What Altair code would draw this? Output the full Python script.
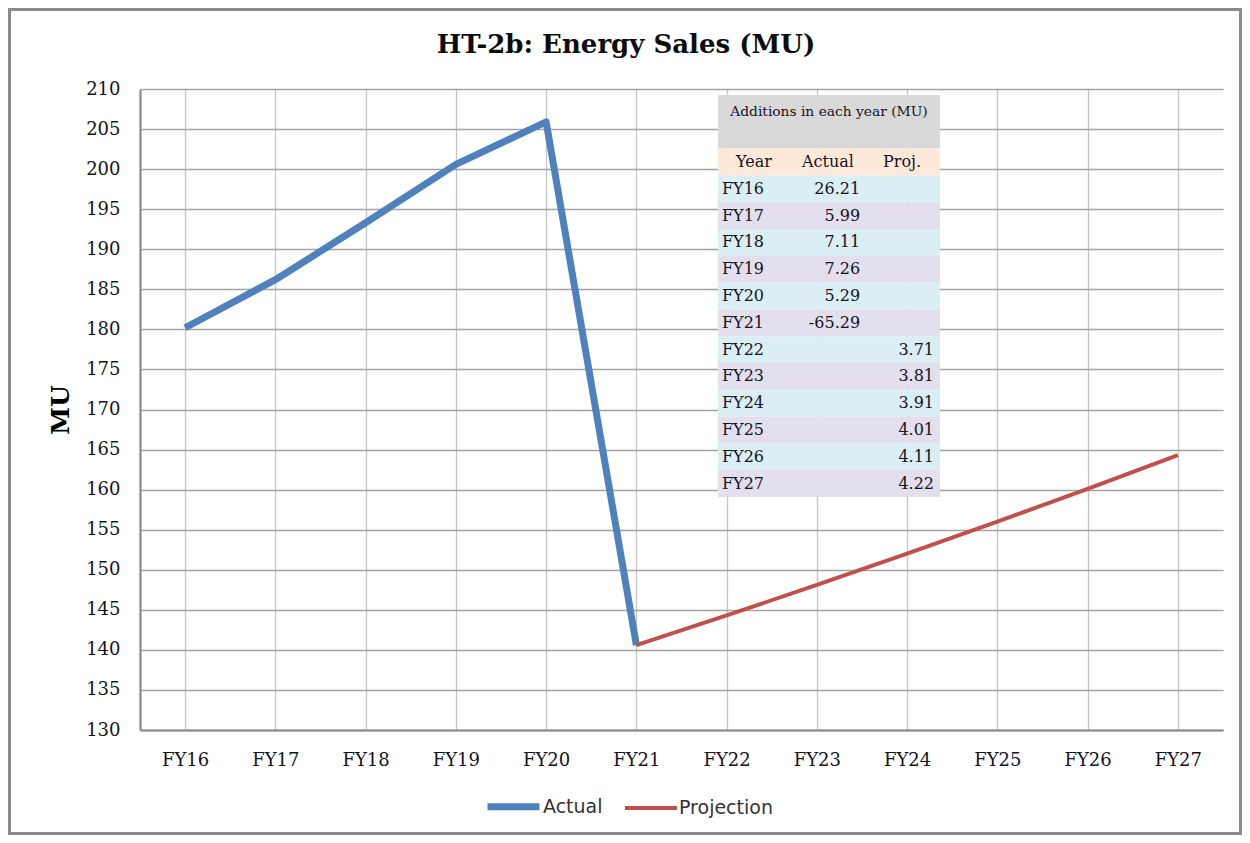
import altair as alt
import pandas as pd

years = ["FY16", "FY17", "FY18", "FY19", "FY20", "FY21",
         "FY22", "FY23", "FY24", "FY25", "FY26", "FY27"]
actual_years = years[:6]
actual_values = [180.2, 186.2, 193.3, 200.6, 205.9, 140.6]
proj_years = years[5:]
proj_values = [140.6, 144.3, 148.1, 152.0, 156.0, 160.1, 164.3]
y_ticks = list(range(130, 211, 5))

actual_add = ["26.21", "5.99", "7.11", "7.26", "5.29", "-65.29"]
proj_add = ["3.71", "3.81", "3.91", "4.01", "4.11", "4.22"]
table_title = "Additions in each year (MU)"
table_headers = ["Year", "Actual", "Proj."]
chart_title = "HT-2b: Energy Sales (MU)"

SERIF = "DejaVu Serif"
SANS = "DejaVu Sans"
TXT = "#14141e"

W, H = 1083, 641

# ---- line data ----
line_df = pd.DataFrame({
    "year": actual_years + proj_years,
    "value": actual_values + proj_values,
    "series": ["Actual"] * len(actual_years) + ["Projection"] * len(proj_years),
    "idx": list(range(len(actual_years))) + list(range(5, 5 + len(proj_years))),
})

series_dom = ["Actual", "Projection"]
lines = alt.Chart(line_df).mark_line(strokeJoin="round").encode(
    x=alt.X("year:N", sort=years,
            scale=alt.Scale(type="point", domain=years, padding=0.5),
            axis=alt.Axis(title=None, labelAngle=0, grid=True, gridColor="#c4c4c4",
                          gridWidth=1.3, ticks=False, domainColor="#8a8a8a",
                          domainWidth=2.2, labelPadding=21, labelFont=SERIF,
                          labelFontSize=18, labelColor=TXT)),
    y=alt.Y("value:Q",
            scale=alt.Scale(domain=[130, 210], nice=False, zero=False),
            axis=alt.Axis(values=y_ticks, title="MU", grid=True, gridColor="#a4a4a4",
                          gridWidth=1.6, ticks=False, domainColor="#8a8a8a",
                          domainWidth=2.2, labelPadding=20, labelFont=SERIF,
                          labelFontSize=18, labelColor=TXT, titleFont=SERIF,
                          titleFontSize=25, titleFontWeight="bold", titleColor="#000",
                          titleAngle=-90, titleX=-80, titleY=H / 2,
                          titleAlign="center", titleBaseline="middle")),
    color=alt.Color("series:N",
                    scale=alt.Scale(domain=series_dom, range=["#4f81bd", "#c0504d"]),
                    legend=alt.Legend(title=None)),
    strokeWidth=alt.StrokeWidth("series:N",
                                scale=alt.Scale(domain=series_dom, range=[7, 4]),
                                legend=alt.Legend(title=None)),
    order=alt.Order("idx:Q"),
)

# ---- table ----
fills = ["#d9d9d9", "#fde9d9"] + ["#daeef3" if i % 2 == 0 else "#e4dfec" for i in range(12)]
bg_df = pd.DataFrame({
    "x0": [0.0] * 14,
    "x1": [1.0] * 14,
    "r0": [0, 2] + [3 + i for i in range(12)],
    "r1": [2, 3] + [4 + i for i in range(12)],
    "fill": fills,
})
tx = alt.Scale(domain=[0, 1], range=[578, 800])
ty = alt.Scale(domain=[0, 15], range=[6, 408])

tbl_bg = alt.Chart(bg_df).mark_rect().encode(
    x=alt.X("x0:Q", scale=tx, axis=None),
    x2="x1:Q",
    y=alt.Y("r0:Q", scale=ty, axis=None),
    y2="r1:Q",
    fill=alt.Fill("fill:N", scale=None),
)

left_df = pd.DataFrame({"x": [0.018] * 12, "y": [3.5 + i for i in range(12)], "t": years})
right_df = pd.DataFrame({
    "x": [0.64] * len(actual_add) + [0.973] * len(proj_add),
    "y": [3.5 + i for i in range(6)] + [9.5 + i for i in range(6)],
    "t": actual_add + proj_add,
})
head_df = pd.DataFrame({"x": [0.162, 0.495, 0.829], "y": [2.5] * 3, "t": table_headers})
ttl_df = pd.DataFrame({"x": [0.5], "y": [0.62], "t": [table_title]})


def tbl_text(df, align, size):
    return alt.Chart(df).mark_text(align=align, baseline="middle", font=SERIF,
                                   fontSize=size, color=TXT).encode(
        x=alt.X("x:Q", scale=tx, axis=None),
        y=alt.Y("y:Q", scale=ty, axis=None),
        text="t:N",
    )


t_left = tbl_text(left_df, "left", 16)
t_right = tbl_text(right_df, "right", 16)
t_head = tbl_text(head_df, "center", 16)
t_ttl = tbl_text(ttl_df, "center", 13.8)

# ---- chart title (text mark) ----
title_mark = alt.Chart(pd.DataFrame({"t": [chart_title]})).mark_text(
    font=SERIF, fontSize=26, fontWeight="bold", color="#0d0d0d",
    align="center", baseline="middle").encode(
    x=alt.value(486), y=alt.value(-44), text="t:N")

# ---- outer frame ----
frame = alt.Chart(pd.DataFrame({"a": [0]})).mark_rect(
    fill=None, stroke="#8a8a8a", strokeWidth=3).encode(
    x=alt.value(-130.5), x2=alt.value(1100.5),
    y=alt.value(-79.5), y2=alt.value(744.5),
)

chart = alt.layer(lines, tbl_bg, t_left, t_right, t_head, t_ttl, title_mark, frame).resolve_scale(
    x="independent", y="independent"
).properties(
    width=W, height=H,
    autosize=alt.AutoSizeParams(type="none"),
    padding={"left": 132, "top": 81, "right": 19, "bottom": 105},
).configure_view(stroke=None).configure_legend(
    orient="none", legendX=344, legendY=688, direction="horizontal",
    symbolType="stroke", symbolSize=2700, labelFont=SANS, labelFontSize=19,
    labelColor="#333", labelOffset=0, columnPadding=14,
)

chart.save("out.html", embed_options={"renderer": "svg", "actions": False})
